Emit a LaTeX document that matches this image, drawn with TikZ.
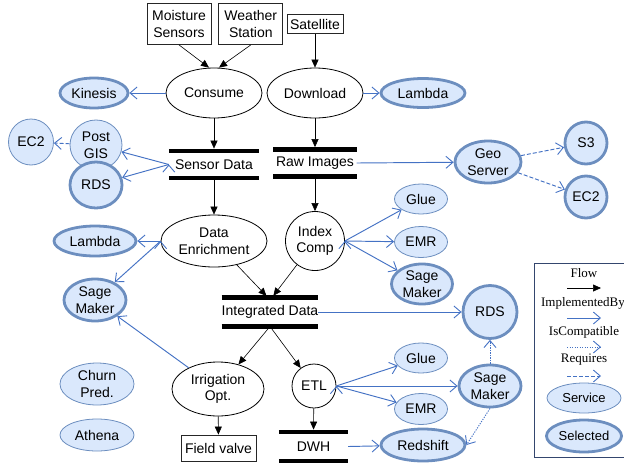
\documentclass[tikz,border=0pt]{standalone}
\usepackage{fontspec}
\setmainfont{Liberation Sans}
\newfontfamily\legfont{Liberation Serif}
\usetikzlibrary{shapes.geometric, arrows.meta}
\usetikzlibrary{positioning}
\definecolor{svcfill}{HTML}{DAE8FC}
\definecolor{svcline}{HTML}{6C8EBF}
\definecolor{implblue}{HTML}{4472C4}
\definecolor{legline}{HTML}{34466E}
\def\lbl{\fontsize{14}{16.5}\selectfont}
\def\leg{\fontsize{13}{15}\selectfont\legfont}
\tikzstyle{src} = [rectangle, draw=black!85, line width=0.8pt, align=center, inner sep=1pt, font=\lbl]
\tikzstyle{proc} = [ellipse, draw=black, line width=0.8pt, align=center, inner sep=0pt, font=\lbl]
\tikzstyle{service} = [ellipse, draw=svcline, fill=svcfill, line width=0.8pt, align=center, inner sep=0pt, font=\lbl]
\tikzstyle{selected} = [service, line width=2.8pt]
\tikzstyle{store} = [rectangle, inner sep=0pt, align=center, font=\lbl]
\tikzstyle{bar} = [line width=4.5pt, black]
\tikzstyle{flow} = [-{Triangle[length=8pt,width=7pt]}, line width=0.6pt, black]
\tikzstyle{impl} = [-{Straight Barb[length=7pt,width=12pt,line width=0.9pt]}, line width=0.95pt, implblue]
\tikzstyle{compat} = [impl, dash pattern=on 1.2pt off 1.3pt]
\tikzstyle{req} = [impl, dash pattern=on 4pt off 2pt]
\tikzstyle{frame} = [rectangle, draw=legline, line width=0.8pt]

\begin{document}
\begin{tikzpicture}[x=1pt, y=-1pt]
  \useasboundingbox (0,0) rectangle (624,464);

  % sources
  \node (moist) [src, minimum width=64pt, minimum height=41pt] at (179,24) {Moisture\\Sensors};
  \node (weather) [src, minimum width=64pt, minimum height=41pt, right=7pt of moist] {Weather\\Station};
  \node (sat) [src, minimum width=56pt, minimum height=19pt] at (315,24) {Satellite};

  \node (consume) [proc, minimum width=96pt, minimum height=50pt] at (214,93) {Consume};
  \node (download) [proc, minimum width=96pt, minimum height=50pt] at (315,93) {Download};
  \node (kin) [selected, minimum width=68pt, minimum height=30pt] at (94,93) {Kinesis};
  \node (lam1) [selected, minimum width=84pt, minimum height=29pt] at (423,93) {Lambda};

  % stores
  \node (sdata) [store, minimum width=90pt, minimum height=27pt] at (214,164.5) {Sensor Data};
  \node (raw) [store, minimum width=83pt, minimum height=27pt] at (315,163) {Raw Images};
  \node (idata) [store, minimum width=96pt, minimum height=28.5pt] at (270,312) {Integrated Data};
  \node (dwh) [store, minimum width=69pt, minimum height=29pt] at (313.5,446.5) {DWH};
  \foreach \s in {sdata,raw,idata,dwh}
    \draw [bar] (\s.north west) -- (\s.north east) (\s.south west) -- (\s.south east);

  \node (pgis) [service, minimum width=52pt, minimum height=50pt] at (96,145) {Post\\GIS};
  \node (ec2a) [service, minimum width=45pt, minimum height=46pt] at (31,142) {EC2};
  \node (rds1) [selected, minimum width=52pt, minimum height=46pt] at (96,185) {RDS};
  \node (geo) [selected, minimum width=66pt, minimum height=42pt] at (488,162) {Geo\\Server};
  \node (s3) [selected, minimum width=42pt, minimum height=42pt] at (586,143) {S3};
  \node (ec2b) [selected, minimum width=42pt, minimum height=42pt] at (586,197) {EC2};

  \node (enrich) [proc, minimum width=106pt, minimum height=52pt] at (214,241) {Data\\Enrichment};
  \node (index) [proc, minimum width=59pt, minimum height=59pt] at (315,241) {Index\\Comp};
  \node (glue1) [service, minimum width=53pt, minimum height=30pt] at (421,199) {Glue};
  \node (emr1) [service, minimum width=53pt, minimum height=31pt] at (421,242) {EMR};
  \node (sage1) [selected, minimum width=61pt, minimum height=40pt] at (422,284) {Sage\\Maker};
  \node (lam2) [selected, minimum width=82pt, minimum height=30pt] at (95,241) {Lambda};
  \node (sage2) [selected, minimum width=62pt, minimum height=42pt] at (95,300) {Sage\\Maker};
  \node (rds2) [selected, minimum width=54pt, minimum height=53pt] at (490,312) {RDS};

  \node (churn) [service, minimum width=74pt, minimum height=42pt] at (97,384) {Churn\\Pred.};
  \node (athena) [service, minimum width=74pt, minimum height=32pt] at (97,435) {Athena};
  \node (irr) [proc, minimum width=92pt, minimum height=54pt] at (218,389) {Irrigation\\Opt.};
  \node (etl) [proc, minimum width=44pt, minimum height=44pt] at (314,386) {ETL};
  \node (glue2) [service, minimum width=53pt, minimum height=30pt] at (421,358) {Glue};
  \node (emr2) [service, minimum width=53pt, minimum height=31pt] at (421,409) {EMR};
  \node (sage3) [selected, minimum width=62pt, minimum height=42pt] at (490,386) {Sage\\Maker};
  \node (red) [selected, minimum width=84pt, minimum height=32pt] at (423,445) {Redshift};
  \node (valve) [src, minimum width=75pt, minimum height=26pt] at (218.5,448) {Field valve};

  % flow
  \draw [flow] (moist.south) -- ([xshift=-5pt]consume.north);
  \draw [flow] (weather.south) -- ([xshift=5pt]consume.north);
  \draw [flow] (sat) -- (download);
  \draw [flow, shorten >=2.2pt] (consume) -- (sdata.north);
  \draw [flow, shorten >=2.2pt] (download) -- (raw.north);
  \draw [flow, shorten <=2.2pt] (sdata.south) -- (enrich);
  \draw [flow, shorten <=2.2pt] (raw.south) -- (index);
  \draw [flow, shorten >=2.2pt] (enrich) -- ([xshift=-2pt]idata.north);
  \draw [flow, shorten >=2.2pt] (index) -- ([xshift=2pt]idata.north);
  \draw [flow, shorten <=2.2pt] (idata.south) -- (irr);
  \draw [flow, shorten <=2.2pt] (idata.south) -- (etl);
  \draw [flow] (irr) -- (valve);
  \draw [flow, shorten >=2.2pt] (etl) -- (dwh.north);

  % implemented by
  \draw [impl] (consume) -- (kin);
  \draw [impl] (download) -- (lam1);
  \draw [impl] (sdata.west) edge (pgis) edge (rds1);
  \draw [impl] (raw.east) -- (geo);
  \draw [impl] (enrich.west) edge (lam2) edge (sage2);
  \draw [impl] (index.east) edge (glue1) edge (emr1) edge (sage1);
  \draw [impl] (idata.east) -- (rds2);
  \draw [impl] (irr) -- (sage2);
  \draw [impl] (etl.east) edge (glue2) edge (sage3) edge (emr2);
  \draw [impl] (dwh.east) -- (red);

  \draw [compat] (sage3) -- (rds2);
  \draw [compat] (sage3.south) -- (red.east);
  \draw [req] (pgis) -- (ec2a);
  \draw [req] (geo) edge (s3) edge (ec2b);

  % legend
  \node (legend) [frame, minimum width=116pt, minimum height=194pt] at (592,360) {};
  \node (lflow) [font=\leg] at (584,273) {Flow};
  \node (limpl) [font=\leg] at (583,303) {ImplementedBy};
  \node (lcomp) [font=\leg] at (584,332) {IsCompatible};
  \node (lreq) [font=\leg] at (584,360) {Requires};
  \foreach \st/\yy in {flow/288, impl/318, compat/347, req/376}{
    \coordinate (\st a) at (567,\yy);
    \coordinate (\st b) at (601,\yy);
    \draw [\st] (\st a) -- (\st b);
  }
  \node (lsvc) [service, minimum width=74pt, minimum height=30pt, font=\fontsize{13}{15}\selectfont] at (584,398) {Service};
  \node (lsel) [selected, minimum width=75pt, minimum height=32pt, font=\fontsize{13}{15}\selectfont] at (584,436) {Selected};

\end{tikzpicture}
\end{document}
